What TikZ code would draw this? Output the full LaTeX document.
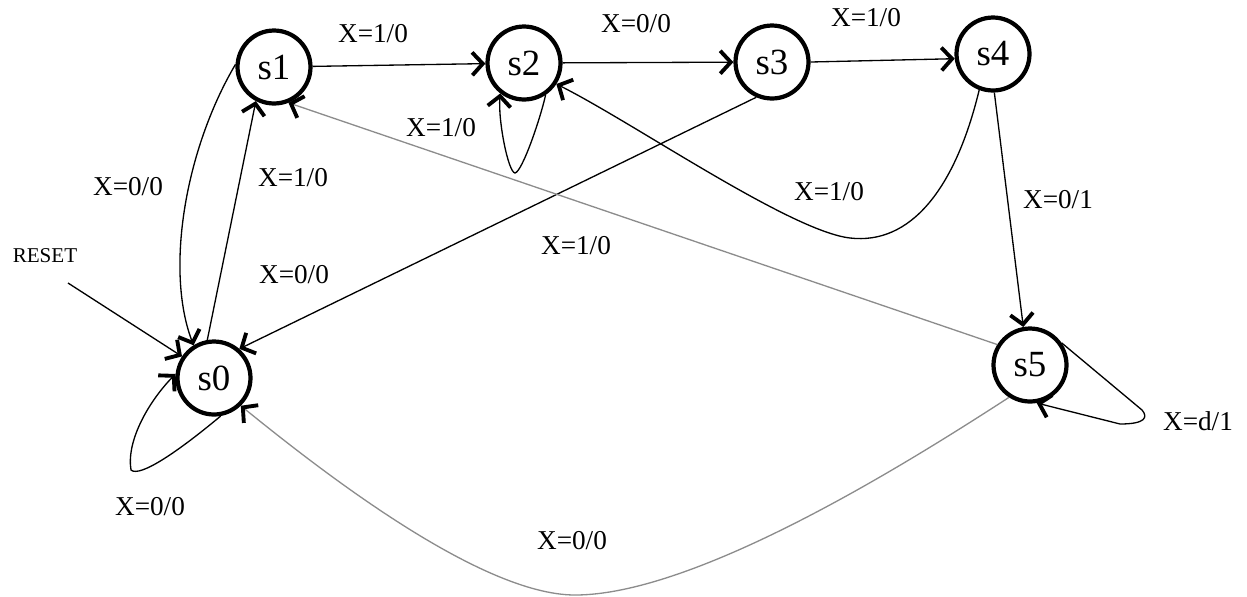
\documentclass[tikz,border=0pt]{standalone}
\usepackage{fontspec}
\setmainfont{Liberation Serif}
\usetikzlibrary{arrows.meta}
\begin{document}
\begin{tikzpicture}[x=0.02cm,y=-0.02cm,
  state/.style={circle,draw,line width=2.4pt,minimum size=1.46cm,inner sep=0pt,font=\fontsize{21}{24}\selectfont},
  lbl/.style={font=\fontsize{15.5}{18}\selectfont,inner sep=0pt},
  edge/.style={line width=0.75pt,-{Straight Barb[length=6pt,width=13pt,line width=2.2pt,color=black]}},
  pale/.style={draw=black!45}]
\useasboundingbox (0,0) rectangle (1247,596);
% states
\node[state] (s1) at (274,67) {s1};
\node[state] (s2) at (524,63) {s2};
\node[state] (s3) at (772,62) {s3};
\node[state] (s4) at (993,54) {s4};
\node[state] (s0) at (214,378) {s0};
\node[state] (s5) at (1030,365) {s5};
% reset
\node[font=\fontsize{12}{14}\selectfont,inner sep=0pt] (reset) at (45,256) {RESET};
\coordinate (rs) at (68,283);
% straight transitions
\draw[edge] (s1) -- (s2);
\draw[edge] (s2) -- (s3);
\draw[edge] (s3.east) -- (s4.187);
\draw[edge] (s3.-114) -- (s0.49);
\draw[edge,pale] (s5.148) -- (s1.-68);
\draw[edge] (s0.100) -- (s1.-118);
\draw[edge] (s4.-88) -- (s5.100);
\draw[edge] (rs) -- (s0.146);
% curved transitions
\draw[edge] (s1.176) .. controls (185,150) and (165,270) .. (s0.122);
\draw[edge] (s4.-111) .. controls (955,190) and (910,245) .. (850,238)
  .. controls (790,231) and (634,123) .. (s2.-33);
\draw[edge,pale] (s5.-123) .. controls (920,455) and (700,595) .. (575,595)
  .. controls (480,595) and (320,470) .. (s0.-46);
% self loops
\draw[edge] (s2.-56) .. controls (540,120) and (522,172) .. (515,173)
  .. controls (508,172) and (498,120) .. (s2.-128);
\draw[edge] (s0.-80) .. controls (180,450) and (140,478) .. (131,470)
  .. controls (126,440) and (150,400) .. (s0.174);
\draw[edge] (s5.35) -- (1142,410) .. controls (1148,417) and (1146,424) .. (1120,424) -- (s5.-80);
% labels
\node[lbl] (l12) at (373,34) {X=1/0};
\node[lbl] (l23) at (636,24) {X=0/0};
\node[lbl] (l34) at (866,18) {X=1/0};
\node[lbl] (l22) at (441,128) {X=1/0};
\node[lbl] (l42) at (829,192) {X=1/0};
\node[lbl] (l51) at (576,246) {X=1/0};
\node[lbl] (l45) at (1058,200) {X=0/1};
\node[lbl] (l10) at (128,187) {X=0/0};
\node[lbl] (l01) at (293,178) {X=1/0};
\node[lbl] (l30) at (294,275) {X=0/0};
\node[lbl] (l00) at (150,507) {X=0/0};
\node[lbl] (l50) at (572,541) {X=0/0};
\node[lbl] (l55) at (1198,421) {X=d/1};
\end{tikzpicture}
\end{document}
